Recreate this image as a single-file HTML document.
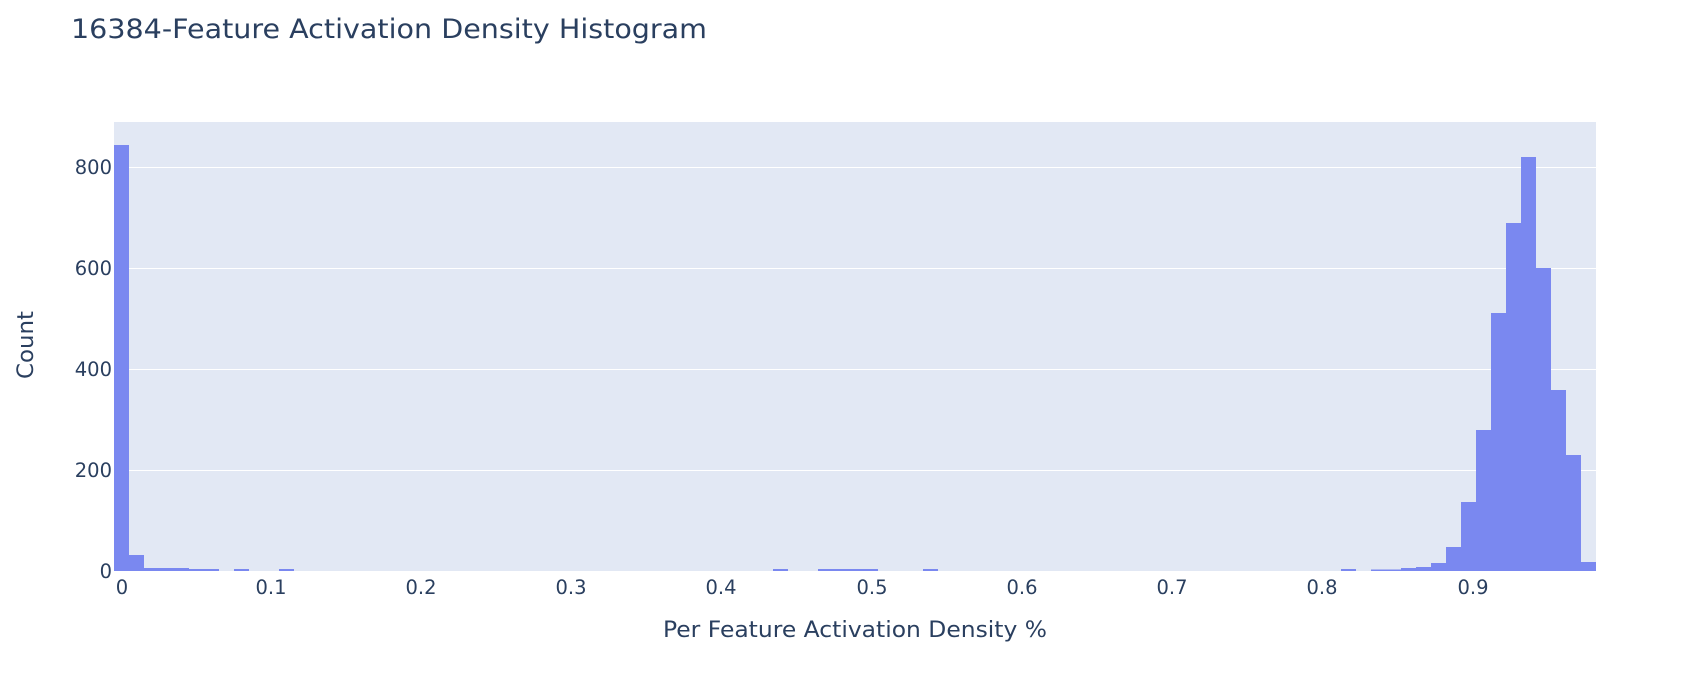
<!DOCTYPE html>
<html><head><meta charset="utf-8"><style>
html,body{margin:0;padding:0;background:#fff;width:1698px;height:680px;overflow:hidden}
svg{display:block}
text{font-family:"DejaVu Sans","Liberation Sans",sans-serif;fill:#2a3f5f}
</style></head><body>
<svg width="1698" height="680" viewBox="0 0 1698 680" xmlns="http://www.w3.org/2000/svg">
<rect x="114" y="122" width="1482" height="449" fill="#E2E8F4"/>
<g stroke="#fff" stroke-width="1">
<line x1="114" x2="1596" y1="167.5" y2="167.5"/>
<line x1="114" x2="1596" y1="268.5" y2="268.5"/>
<line x1="114" x2="1596" y1="369.5" y2="369.5"/>
<line x1="114" x2="1596" y1="470.5" y2="470.5"/>
</g>
<g fill="#7a88f0">
<rect x="114" y="145" width="15" height="426"/>
<rect x="129" y="555" width="15" height="16"/>
<rect x="144" y="568" width="45" height="3"/>
<rect x="189" y="569" width="30" height="2"/>
<rect x="234" y="569" width="15" height="2"/>
<rect x="279" y="569" width="15" height="2"/>
<rect x="773" y="569" width="15" height="2"/>
<rect x="818" y="569" width="60" height="2"/>
<rect x="923" y="569" width="15" height="2"/>
<rect x="1341" y="569" width="15" height="2"/>
<rect x="1371" y="569.5" width="30" height="1.5"/>
<rect x="1401" y="568" width="15" height="3"/>
<rect x="1416" y="567" width="15" height="4"/>
<rect x="1431" y="563" width="15" height="8"/>
<rect x="1446" y="547" width="15" height="24"/>
<rect x="1461" y="502" width="15" height="69"/>
<rect x="1476" y="430" width="15" height="141"/>
<rect x="1491" y="313" width="15" height="258"/>
<rect x="1506" y="223" width="15" height="348"/>
<rect x="1521" y="157" width="15" height="414"/>
<rect x="1536" y="268" width="15" height="303"/>
<rect x="1551" y="390" width="15" height="181"/>
<rect x="1566" y="455" width="15" height="116"/>
<rect x="1581" y="562" width="15" height="9"/>
</g>
<g font-size="19.5" text-anchor="end">
<text x="112" y="174">800</text>
<text x="112" y="275">600</text>
<text x="112" y="376">400</text>
<text x="112" y="477">200</text>
<text x="112" y="578">0</text>
</g>
<g font-size="19.5" text-anchor="middle">
<text x="122" y="594">0</text>
<text x="271" y="594">0.1</text>
<text x="421" y="594">0.2</text>
<text x="571" y="594">0.3</text>
<text x="721" y="594">0.4</text>
<text x="872" y="594">0.5</text>
<text x="1022" y="594">0.6</text>
<text x="1172" y="594">0.7</text>
<text x="1322" y="594">0.8</text>
<text x="1473" y="594">0.9</text>
</g>
<text x="71" y="38" font-size="27" textLength="636" lengthAdjust="spacingAndGlyphs">16384-Feature Activation Density Histogram</text>
<text x="663" y="637" font-size="22" textLength="384" lengthAdjust="spacingAndGlyphs">Per Feature Activation Density %</text>
<text transform="translate(33,345) rotate(-90)" font-size="22" text-anchor="middle" textLength="68" lengthAdjust="spacingAndGlyphs">Count</text>
</svg>
</body></html>
